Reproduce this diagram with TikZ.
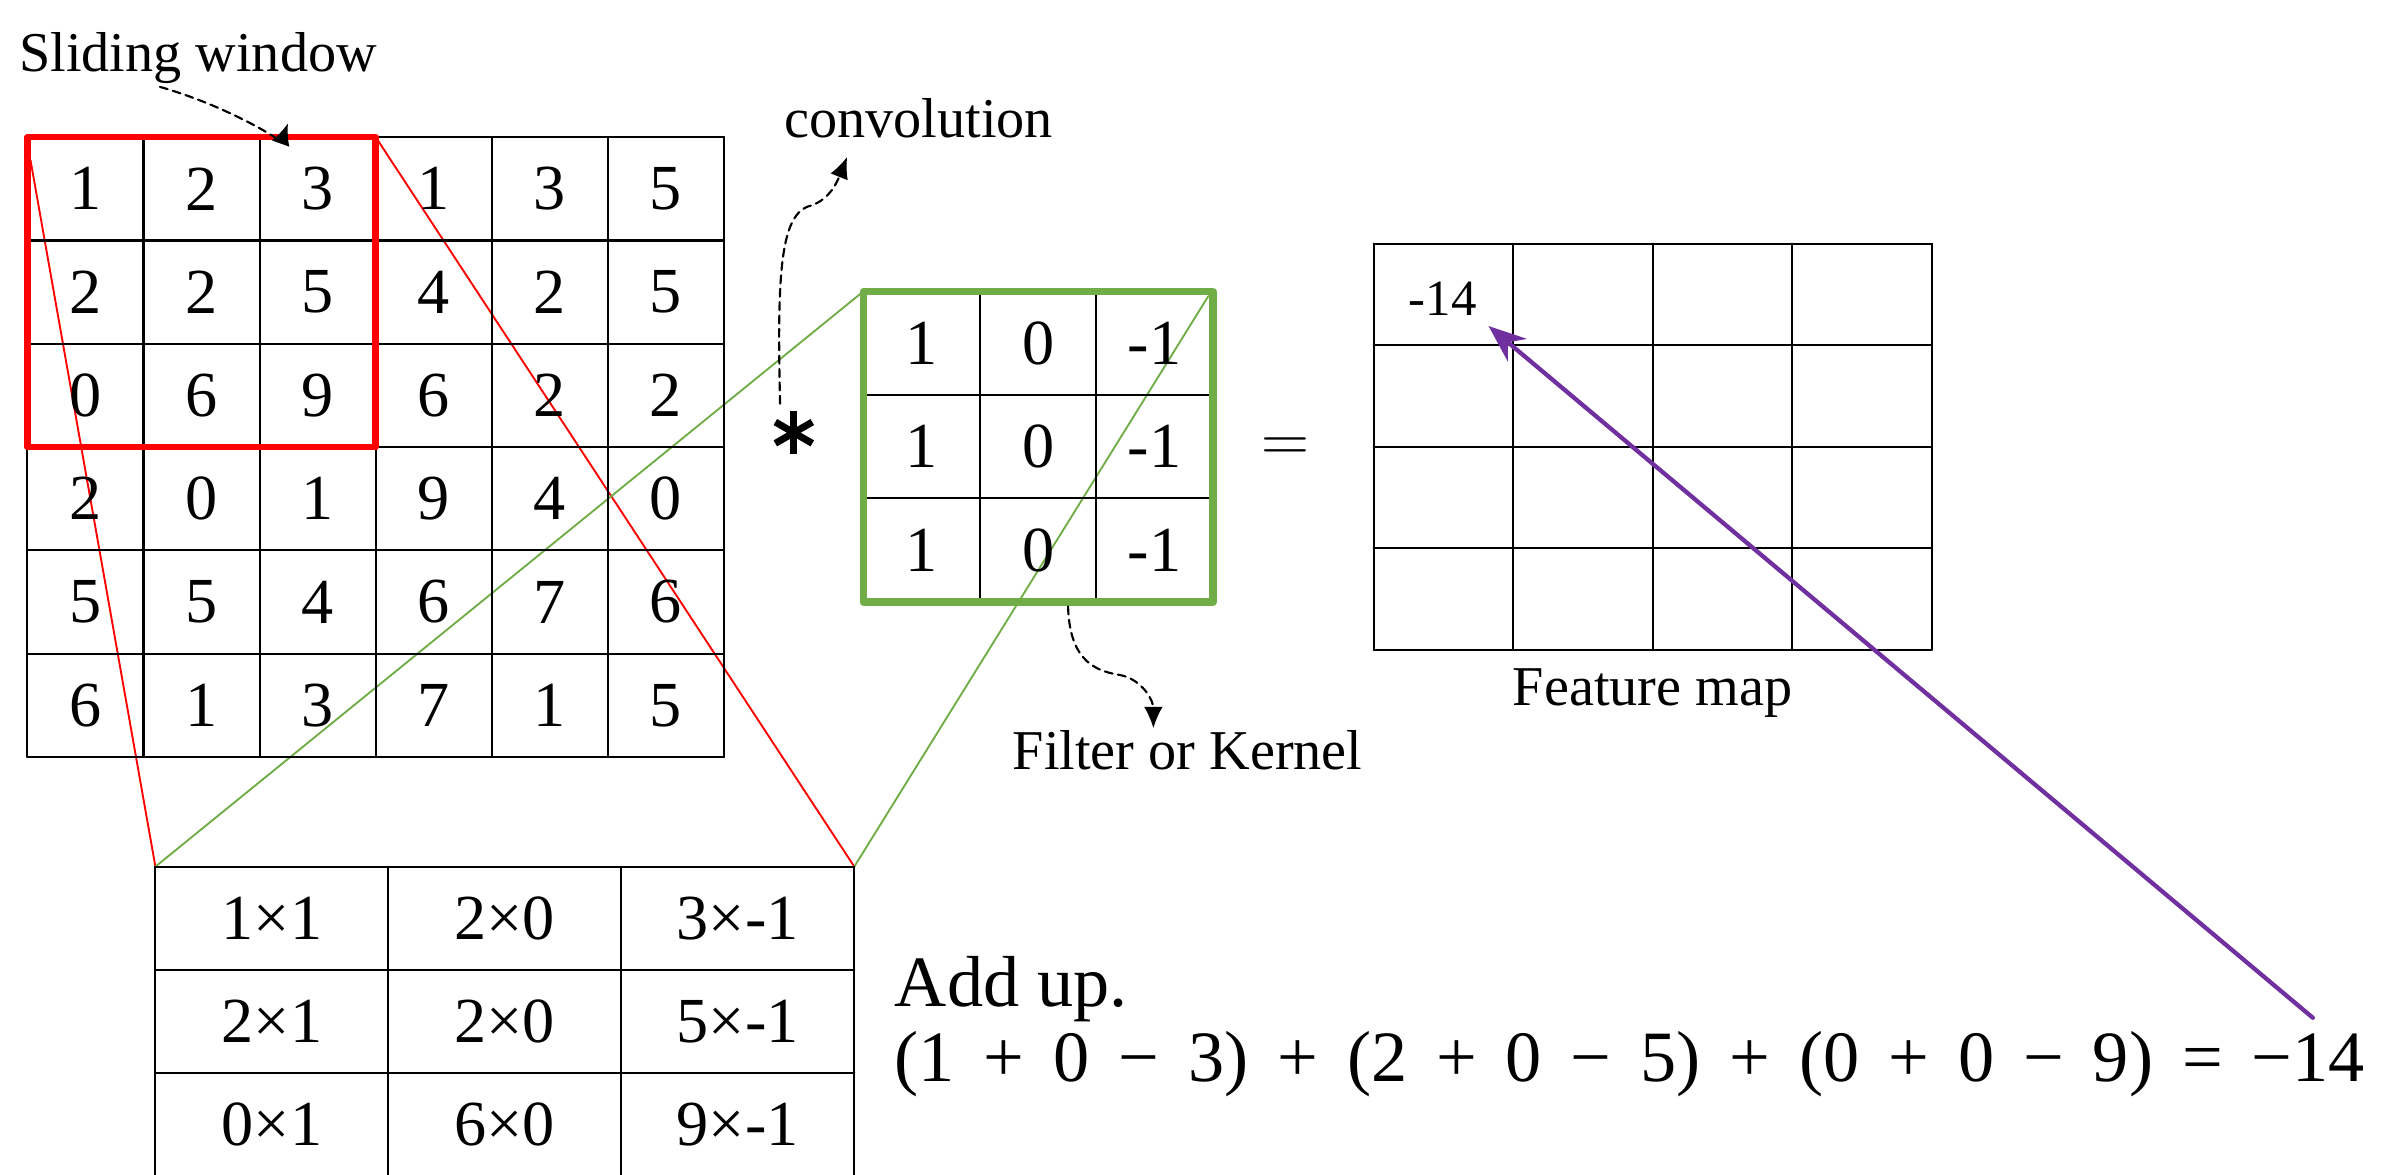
\documentclass[tikz,border=0pt]{standalone}
\usepackage{fontspec}
\setmainfont{Liberation Serif}
\usetikzlibrary{arrows.meta}
\definecolor{kgreen}{HTML}{70AD47}
\definecolor{apurple}{HTML}{7030A0}
\newcommand{\eqgap}{\hspace{0.4em}}
\tikzset{
	gridline/.style={line width=0.8pt},
	cellnum/.style={font=\fontsize{24}{28}\selectfont},
	lbl/.style={font=\fontsize{21}{25}\selectfont},
	eqtext/.style={font=\fontsize{27}{31}\selectfont, inner sep=0pt},
	dasharrow/.style={dash pattern=on 3pt off 2pt, line width=0.8pt, -{Latex[length=8pt,width=7pt]}},
}
\begin{document}
\begin{tikzpicture}[x=0.02cm, y=-0.02cm, >={Stealth[length=14pt,width=11pt]}, line join=round, line cap=round]
				\useasboundingbox (0,0) rectangle (1568,771);
				\def\ix{18} \def\iy{90} \def\icw{76.2} \def\ich{67.8} % input
				\def\kx{566.6} \def\ky{191.3} \def\kcw{76.5} \def\kch{67.9} % kernel
				\def\fx{901.6} \def\fy{160} \def\fcw{91.6} \def\fch{66.6} % feature map
				\def\px{102} \def\py{568.8} \def\pcw{152.9} \def\pch{67.8} % products
				%\draw[color=gray!50,dashed] (0,0) grid[step=100] (1568,771);
				\coordinate (winA) at (20,105);
				\coordinate (winB) at ({\ix+3*\icw},\iy);
				\coordinate (kerA) at (\kx,\ky);
				\coordinate (kerB) at ({\kx+3*\kcw-3},{\ky+3});
				\coordinate (prodA) at (\px,\py);
				\coordinate (prodB) at ({\px+3*\pcw},\py);
				\draw[red, line width=0.7pt] (winA)--(prodA) (winB)--(prodB);
				\draw[kgreen, line width=0.7pt] (kerA)--(prodA) (kerB)--(prodB);
				% input image
				\foreach \i in {0,...,6} {
					\draw[gridline] ({\ix+\i*\icw},\iy)--({\ix+\i*\icw},{\iy+6*\ich});
					\draw[gridline] (\ix,{\iy+\i*\ich})--({\ix+6*\icw},{\iy+\i*\ich});
				}
				\foreach \row [count=\r from 0] in {{1,2,3,1,3,5},{2,2,5,4,2,5},{0,6,9,6,2,2},{2,0,1,9,4,0},{5,5,4,6,7,6},{6,1,3,7,1,5}}
					\foreach \v [count=\c from 0] in \row
						\node[cellnum] (in-\r-\c) at ({\ix+(\c+0.5)*\icw},{\iy+(\r+0.5)*\ich}) {\v};
				\draw[red, line width=2.5pt] (\ix,\iy) rectangle ({\ix+3*\icw},{\iy+3*\ich});
				% kernel
				\foreach \i in {1,2} {
					\draw[gridline] ({\kx+\i*\kcw},\ky)--({\kx+\i*\kcw},{\ky+3*\kch});
					\draw[gridline] (\kx,{\ky+\i*\kch})--({\kx+3*\kcw},{\ky+\i*\kch});
				}
				\foreach \row [count=\r from 0] in {{1,0,-1},{1,0,-1},{1,0,-1}}
					\foreach \v [count=\c from 0] in \row
						\node[cellnum] (k-\r-\c) at ({\kx+(\c+0.5)*\kcw},{\ky+(\r+0.5)*\kch}) {\v};
				\draw[kgreen, line width=2.8pt] (\kx,\ky) rectangle ({\kx+3*\kcw},{\ky+3*\kch});
				% feature map
				\foreach \i in {0,...,4} {
					\draw[gridline] ({\fx+\i*\fcw},\fy)--({\fx+\i*\fcw},{\fy+4*\fch});
					\draw[gridline] (\fx,{\fy+\i*\fch})--({\fx+4*\fcw},{\fy+\i*\fch});
				}
				\node[font=\fontsize{19}{22}\selectfont] (fmval) at (947,196) {-14};
				% products
				\foreach \i in {0,...,3}
					\draw[gridline] ({\px+\i*\pcw},\py)--({\px+\i*\pcw},771);
				\foreach \i in {0,1,2}
					\draw[gridline] (\px,{\py+\i*\pch})--({\px+3*\pcw},{\py+\i*\pch});
				\foreach \row [count=\r from 0] in {{1×1,2×0,3×-1},{2×1,2×0,5×-1},{0×1,6×0,9×-1}}
					\foreach \v [count=\c from 0] in \row
						\node[cellnum] (p-\r-\c) at ({\px+(\c+0.5)*\pcw},{\py+(\r+0.5)*\pch}) {\v};
				% signs and labels
				\node[inner sep=0pt] (star) at (521,284) {};
				\foreach \a in {90,30,-30}
					\draw[line width=2.6pt, line cap=butt] (star.center) ++(\a:14) -- ++(\a+180:28);
				\node[font=\fontsize{26}{30}\selectfont] (eq) at (844,295) {$=$};
				\node[lbl, anchor=base] (slide) at (130,47) {Sliding window};
				\node[lbl, anchor=base] (conv) at (603,90.5) {convolution};
				\node[lbl, anchor=base] (filt) at (779.5,505) {Filter or Kernel};
				\node[lbl, anchor=base] (fmap) at (1084.7,462.8) {Feature map};
				\node[eqtext, anchor=base west] (addup) at (587,660.7) {Add up.};
				\node[eqtext, anchor=base west] (sum) at (587,710) {(1\eqgap+\eqgap0\eqgap−\eqgap3)\eqgap+\eqgap(2\eqgap+\eqgap0\eqgap−\eqgap5)\eqgap+\eqgap(0\eqgap+\eqgap0\eqgap−\eqgap9)\eqgap=\eqgap−14};
				% dashed pointers
				\coordinate (slideS) at (105,57);
				\coordinate (slideT) at (189,81);
				\coordinate (convS) at (512,265);
				\coordinate (convT) at (556,103);
				\coordinate (filtS) at (701,398);
				\coordinate (filtT) at (757,478);
				\draw[dasharrow] (slideS) .. controls (150,70) and (185,92) .. (slideT);
				\draw[dasharrow] (convS) .. controls (510,180) and (512,140) .. (532,135) .. controls (545,131) and (550,118) .. (convT);
				\draw[dasharrow] (filtS) .. controls (702,430) and (715,440) .. (735,443) .. controls (750,446) and (757,460) .. (filtT);
				% result pointer
				\coordinate (sumEnd) at (1518,668);
				\coordinate (valTip) at (977,214);
				\draw[apurple, line width=1.6pt, ->] (sumEnd)--(valTip);
			\end{tikzpicture}
\end{document}
